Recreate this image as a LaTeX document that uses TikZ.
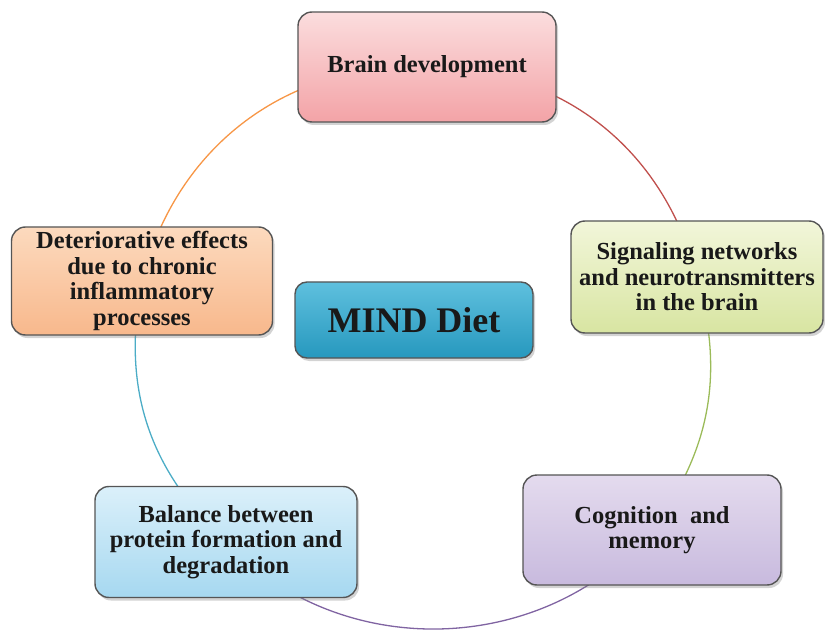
\documentclass[tikz,border=0pt]{standalone}
\usepackage{fontspec}
\setmainfont{Liberation Serif}
\usetikzlibrary{shadows,backgrounds}

\definecolor{ringorange}{RGB}{247,150,70}
\definecolor{ringred}{RGB}{192,80,77}
\definecolor{ringgreen}{RGB}{155,187,89}
\definecolor{ringpurple}{RGB}{128,100,162}
\definecolor{ringblue}{RGB}{75,172,198}
\definecolor{edgegray}{RGB}{85,85,85}

\begin{document}
\begin{tikzpicture}[
    x=1pt, y=1pt,
    every node/.style={font=\bfseries\fontsize{24.5}{25.5}\selectfont, align=center, text=black!90},
    topic/.style={draw=edgegray, line width=1.4pt, rounded corners=14pt,
      minimum width=258pt, minimum height=110pt, inner sep=0pt,
      drop shadow={opacity=0.35, shadow xshift=2pt, shadow yshift=-3pt}},
    link/.style={line width=1.3pt}
  ]
  \useasboundingbox (0,0) rectangle (825,633);

  \node[topic, top color={rgb,255:red,251;green,221;blue,222}, bottom color={rgb,255:red,243;green,163;blue,167}]
    (brain) at (427,566) {Brain development};
  \node[topic, minimum width=252pt, minimum height=112pt,
    top color={rgb,255:red,242;green,246;blue,218}, bottom color={rgb,255:red,216;green,229;blue,162}]
    (signal) at (697,356) {Signaling networks\\and neurotransmitters\\in the brain};
  \node[topic, top color={rgb,255:red,228;green,219;blue,238}, bottom color={rgb,255:red,200;green,186;blue,222}]
    (cognition) at (652,103) {Cognition~~and\\memory};
  \node[topic, minimum width=262pt, minimum height=111pt,
    top color={rgb,255:red,219;green,240;blue,250}, bottom color={rgb,255:red,166;green,216;blue,240}]
    (balance) at (226,91) {Balance between\\protein formation and\\degradation};
  \node[topic, minimum width=261pt, minimum height=108pt,
    top color={rgb,255:red,252;green,218;blue,190}, bottom color={rgb,255:red,248;green,184;blue,140}]
    (deter) at (142,352) {Deteriorative effects\\due to chronic\\inflammatory\\processes};
  \node[topic, minimum width=238pt, minimum height=76pt, rounded corners=12pt,
    font=\bfseries\fontsize{36}{40}\selectfont,
    top color={rgb,255:red,95;green,192;blue,222}, bottom color={rgb,255:red,38;green,152;blue,190}]
    (mind) at (414,313) {MIND Diet};

  \begin{scope}[on background layer]
    \draw[link, ringorange] (deter.center) to[bend left=39] (brain.center);
    \draw[link, ringred] (brain.center) to[bend left=37.5] (signal.center);
    \draw[link, ringgreen] (signal.center) to[bend left=26] (cognition.center);
    \draw[link, ringpurple] (cognition.center) to[bend left=48] (balance.center);
    \draw[link, ringblue] (balance.center) to[bend left=29] (deter.center);
  \end{scope}
\end{tikzpicture}
\end{document}
